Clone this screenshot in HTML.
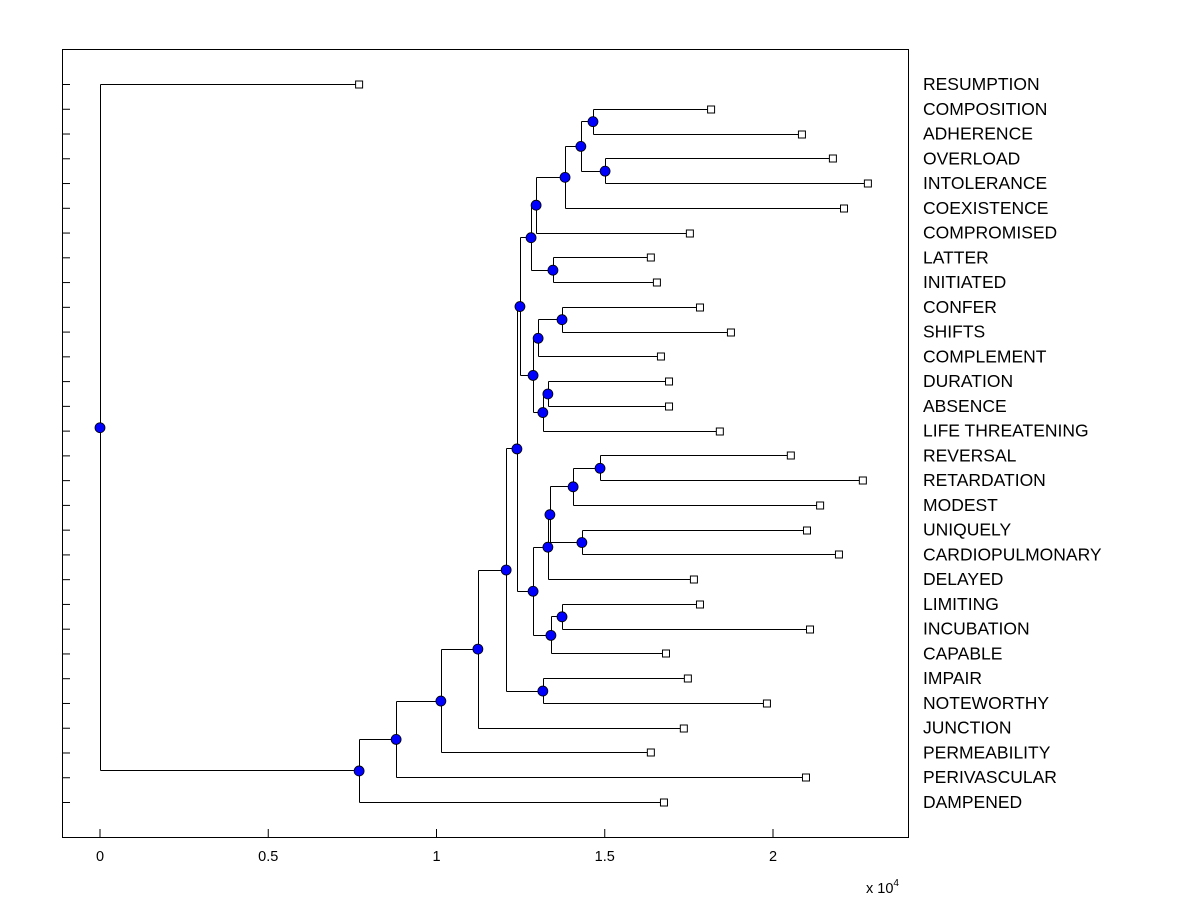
<!DOCTYPE html>
<html><head><meta charset="utf-8">
<style>
html,body{margin:0;padding:0;background:#fff;}
svg{display:block;font-family:"Liberation Sans",Arial,sans-serif;}
</style></head>
<body>
<svg id="chart" width="1200" height="900"></svg>
<script>
// ---- data ----
const leafNames = ["RESUMPTION","COMPOSITION","ADHERENCE","OVERLOAD","INTOLERANCE","COEXISTENCE","COMPROMISED","LATTER","INITIATED","CONFER","SHIFTS","COMPLEMENT","DURATION","ABSENCE","LIFE THREATENING","REVERSAL","RETARDATION","MODEST","UNIQUELY","CARDIOPULMONARY","DELAYED","LIMITING","INCUBATION","CAPABLE","IMPAIR","NOTEWORTHY","JUNCTION","PERMEABILITY","PERIVASCULAR","DAMPENED"];
const leafValues = [0.770,1.816,2.086,2.178,2.282,2.211,1.753,1.637,1.655,1.783,1.875,1.667,1.691,1.691,1.842,2.053,2.267,2.140,2.101,2.196,1.765,1.783,2.110,1.682,1.747,1.982,1.735,1.637,2.098,1.676];
const nodeIds    = ["root","A","B","C","D","E","F","G","H","I","J","K","L","M","N","O","P","Q","R","S","T","U","V","W","X","Y","Z","AA","BB"];
const nodeValues = [0,0.770,0.880,1.013,1.123,1.207,1.239,1.316,1.248,1.287,1.281,1.287,1.296,1.346,1.382,1.429,1.465,1.501,1.302,1.316,1.373,1.331,1.331,1.340,1.337,1.406,1.432,1.486,1.373];
const nodeLeft   = ["RESUMPTION","B","C","D","E","F","H","IMPAIR","J","V","L","R","N","LATTER","O","P","COMPOSITION","OVERLOAD","T","U","CONFER","DURATION","X","BB","Y","AA","UNIQUELY","REVERSAL","LIMITING"];
const nodeRight  = ["A","DAMPENED","PERIVASCULAR","PERMEABILITY","JUNCTION","G","I","NOTEWORTHY","K","W","M","S","COMPROMISED","INITIATED","COEXISTENCE","Q","ADHERENCE","INTOLERANCE","COMPLEMENT","LIFE THREATENING","SHIFTS","ABSENCE","DELAYED","CAPABLE","Z","MODEST","CARDIOPULMONARY","RETARDATION","INCUBATION"];
const xTicks = [0,0.5,1,1.5,2];
const xTickLabels = ["0","0.5","1","1.5","2"];

// ---- layout ----
const NS="http://www.w3.org/2000/svg";
const svg=document.getElementById('chart');
const box={l:62,t:49,r:908,b:837};
const x0=100, xs=336.5;
const xScale=v=>x0+v*xs;
const rowY=i=>84+i*(802-84)/(leafNames.length-1);
function mk(tag,attrs,parent){const e=document.createElementNS(NS,tag);for(const k in attrs)e.setAttribute(k,attrs[k]);(parent||svg).appendChild(e);return e;}

const frame=mk('rect',{x:box.l+0.5,y:box.t+0.5,width:box.r-box.l,height:box.b-box.t,fill:'#fff',stroke:'#000','stroke-width':1});



// x ticks
xTicks.forEach((v,i)=>{
  const t=mk('text',{x:xScale(v),y:861,'font-size':14.5,'text-anchor':'middle'});
  t.textContent=xTickLabels[i];
  
  
  mk('line',{x1:xScale(v),x2:xScale(v),y1:box.b,y2:box.b-8,stroke:'#000'});
});
const ex=mk('text',{x:866,y:893,'font-size':14.5});
ex.innerHTML='x 10<tspan dy="-7" font-size="10">4</tspan>';



// leaves
const pos={};
leafNames.forEach((n,i)=>{pos[n]={x:xScale(leafValues[i]),y:rowY(i)};});
leafNames.forEach((n,i)=>{
  const y=rowY(i);
  mk('line',{x1:box.l,x2:box.l+8,y1:y+0.5,y2:y+0.5,stroke:'#000'});
  const t=mk('text',{x:923,y:y+6,'font-size':17.5});
  t.textContent=n;
  
  
});
// nodes
const nIdx={};nodeIds.forEach((id,i)=>nIdx[id]=i);
function getPos(id){
  if(pos[id])return pos[id];
  const i=nIdx[id];
  const a=getPos(nodeLeft[i]),b=getPos(nodeRight[i]);
  pos[id]={x:xScale(nodeValues[i]),y:(a.y+b.y)/2};
  return pos[id];
}
const lines=mk('g',{stroke:'#000','stroke-width':1,fill:'none'});


nodeIds.forEach((id,i)=>{
  const p=getPos(id);
  const a=getPos(nodeLeft[i]),b=getPos(nodeRight[i]);
  const px=Math.round(p.x)+0.5;
  mk('path',{d:`M${px},${Math.round(a.y)+0.5}V${Math.round(b.y)+0.5}M${px},${Math.round(a.y)+0.5}H${a.x}M${px},${Math.round(b.y)+0.5}H${b.x}`},lines);
});
leafNames.forEach(n=>{
  const p=pos[n];
  const s=mk('rect',{x:p.x-3.5,y:Math.round(p.y)-3,width:7,height:7,fill:'#fff',stroke:'#000'});
  
  
});
nodeIds.forEach(id=>{
  const p=pos[id];
  const c=mk('circle',{cx:p.x,cy:p.y+0.5,r:5,fill:'#0000ff',stroke:'#000','stroke-width':0.8});
  
  
});
</script>
</body></html>
